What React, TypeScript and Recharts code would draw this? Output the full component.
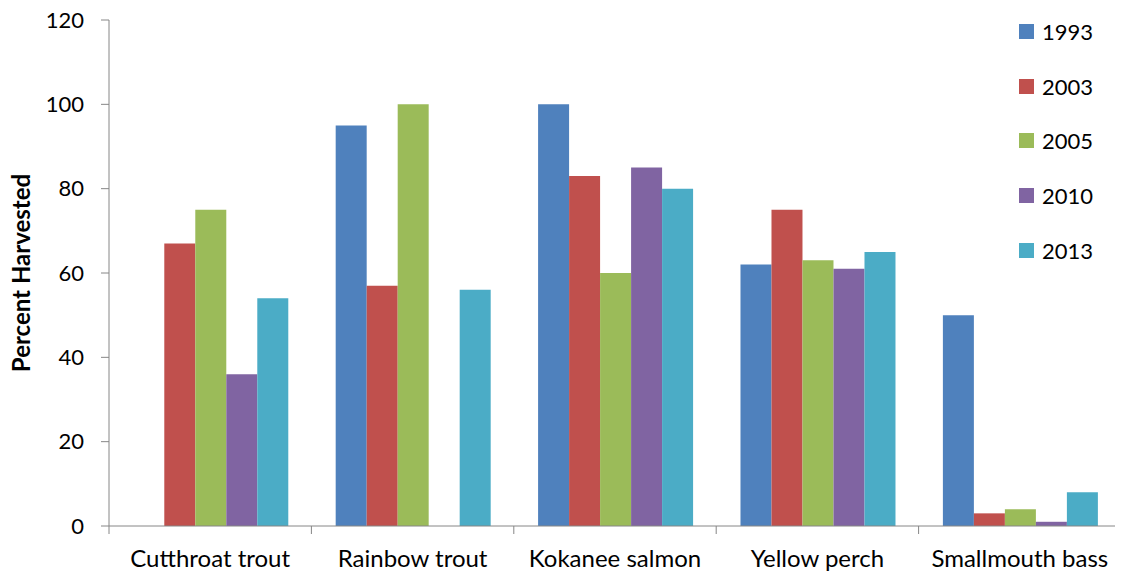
import { BarChart, Bar, XAxis, YAxis, Legend } from 'recharts'

const species = ['Cutthroat trout', 'Rainbow trout', 'Kokanee salmon', 'Yellow perch', 'Smallmouth bass']
const years = ['1993', '2003', '2005', '2010', '2013']
const colors = ['#4F81BD', '#C0504D', '#9BBB59', '#8064A2', '#4BACC6']

// null = no bar drawn for that year
const y1993 = [null, 95, 100, 62, 50]
const y2003 = [67, 57, 83, 75, 3]
const y2005 = [75, 100, 60, 63, 4]
const y2010 = [36, null, 85, 61, 1]
const y2013 = [54, 56, 80, 65, 8]
const yTicks = [0, 20, 40, 60, 80, 100, 120]

const series = [y1993, y2003, y2005, y2010, y2013]
const data = species.map((name, i) => {
    const row: any = { name }
    years.forEach((yr, j) => { row[yr] = series[j][i] })
    return row
})

const FONT = 'Lato, "Open Sans", sans-serif'
const AXIS = '#868686'

function CategoryTick(props: any) {
    const { x, y, payload, index } = props
    const half = payload.offset ?? 101.2
    return (
        <g>
            <line x1={x - half} x2={x - half} y1={y - 8} y2={y} stroke={AXIS} />
            {index === species.length - 1 && <line x1={x + half} x2={x + half} y1={y - 8} y2={y} stroke={AXIS} />}
            <text x={x} y={y + 33} textAnchor="middle" fontSize={24} fill="#000" fontFamily={FONT}>{payload.value}</text>
        </g>
    )
}

function LegendBox() {
    return (
        <div style={{ fontFamily: FONT, fontSize: 22, color: '#000' }}>
            {years.map((yr, i) => (
                <div key={yr} style={{ display: 'flex', alignItems: 'center', height: 54.7 }}>
                    <span style={{ width: 15, height: 15, background: colors[i], display: 'inline-block', marginRight: 8 }} />
                    {yr}
                </div>
            ))}
        </div>
    )
}

export default function App() {
    return (
        <div style={{ margin: -8, width: 1123, height: 580, background: '#fff' }}>
            <BarChart width={1123} height={580} data={data} margin={{ top: 20, right: 2, bottom: 0, left: 0 }}
                barCategoryGap="12%" barGap={0}>
                <XAxis dataKey="name" height={54} stroke={AXIS} tickLine={false} tick={<CategoryTick />} interval={0} />
                <YAxis width={109} domain={[0, 120]} ticks={yTicks} stroke={AXIS} tickSize={8} tickMargin={17}
                    tick={{ fill: '#000', fontSize: 22, fontFamily: FONT }}
                    label={({ viewBox }: any) => (
                        <text x={0} y={0} transform={`translate(30, ${viewBox.y + viewBox.height / 2}) rotate(-90)`}
                            textAnchor="middle" fontSize={24} fontWeight="bold" fontFamily={FONT} fill="#000">Percent Harvested</text>
                    )} />
                <Legend layout="horizontal" align="center" verticalAlign="middle" content={<LegendBox />}
                    wrapperStyle={{ top: 4, left: 1019, width: 100 }} />
                {years.map((yr, i) => (
                    <Bar key={yr} dataKey={yr} fill={colors[i]} isAnimationActive={false} />
                ))}
            </BarChart>
        </div>
    )
}
